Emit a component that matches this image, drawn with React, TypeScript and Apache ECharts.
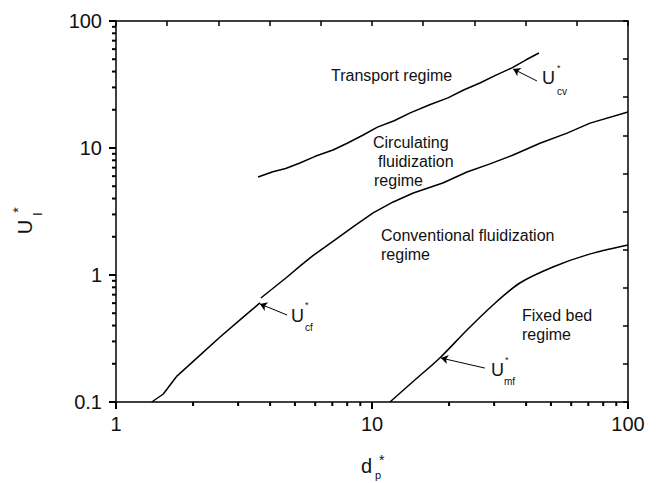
import React, { useEffect, useRef } from "react";
import * as echarts from "echarts";

// Curve data (dp*, U*)
const ucvData: number[][] = [
  [3.59, 5.91], [4.1, 6.5], [4.6, 6.9], [5.23, 7.62], [6.0, 8.6], [7.04, 9.64],
  [8.0, 10.9], [9.2, 12.6], [10.5, 14.6], [12.2, 16.4], [14.1, 18.9], [16.8, 21.9],
  [19.8, 24.8], [22.8, 28.6], [26.4, 32.5], [30.5, 37.5], [35.2, 42.7], [40, 49.5], [44.9, 56.0],
];
const ucfLowData: number[][] = [
  [1.38, 0.1], [1.53, 0.1156], [1.73, 0.16], [2.13, 0.234], [2.55, 0.325], [3.05, 0.443], [3.65, 0.603],
];
const ucfHighData: number[][] = [
  [3.68, 0.659], [4.66, 0.964], [5.3, 1.2], [5.88, 1.42], [7.17, 1.89], [8.43, 2.39], [10.1, 3.08],
  [12.1, 3.76], [14.5, 4.42], [18.9, 5.3], [23.5, 6.47], [28.9, 7.5], [35.6, 8.81],
  [45.3, 10.9], [57.8, 13.1], [71.1, 15.7], [100, 19.2],
];
const umfData: number[][] = [
  [11.75, 0.1], [14.7, 0.149], [18.4, 0.222], [23.5, 0.369], [29.7, 0.581],
  [37.8, 0.865], [50.9, 1.156], [69.2, 1.44], [100, 1.72],
];

// Arrow annotations: [from, to] in data coords
const cvArrow = [[44.1, 33.7], [35.6, 41.9]];
const cfArrow = [[4.66, 0.484], [3.65, 0.592]];
const mfArrow = [[27.6, 0.185], [18.6, 0.222]];

// Minor tick values
const xMinorTicks = [2, 3, 4, 5, 6, 7, 8, 9, 20, 30, 40, 50, 60, 70, 80, 90];
const yMinorTicks = [0.2, 0.3, 0.4, 0.5, 0.6, 0.7, 0.8, 0.9, 2, 3, 4, 5, 6, 7, 8, 9, 20, 30, 40, 50, 60, 70, 80, 90];

const FONT = "'Liberation Sans', Arial, sans-serif";
const INK = "#111";
const TICK = "#000";

function txt(x: number, y: number, text: string, fontSize: number, extra: any = {}) {
  return {
    type: "text",
    x,
    y,
    silent: true,
    ...extra,
    style: {
      text,
      fontSize,
      fontFamily: FONT,
      fill: INK,
      align: "left",
      verticalAlign: "middle",
      ...(extra.style || {}),
    },
  };
}

function arrowLine(a: number[][]) {
  return {
    silent: true,
    symbol: ["none", "arrow"],
    symbolSize: 7,
    animation: false,
    lineStyle: { color: "#000", width: 1, type: "solid" },
    label: { show: false },
    emphasis: { disabled: true },
    data: [[{ coord: a[0] }, { coord: a[1] }]],
  };
}

export default function App() {
  const ref = useRef<HTMLDivElement>(null);
  useEffect(() => {
    const chart = echarts.init(ref.current!, null, { renderer: "svg" });
    const lineSeries = (data: number[][], extra: any = {}) => ({
      type: "line",
      data,
      showSymbol: false,
      symbol: "none",
      lineStyle: { color: "#000", width: 1.5 },
      silent: true,
      ...extra,
    });
    const tickSeries = (data: number[][], dx: number, dy: number) => ({
      type: "custom",
      clip: false,
      z: 5,
      data,
      renderItem: (_params: any, api: any) => {
        const p = api.coord([api.value(0), api.value(1)]);
        return {
          type: "line",
          shape: { x1: p[0], y1: p[1], x2: p[0] + dx, y2: p[1] + dy },
          style: { stroke: TICK, lineWidth: 2 },
        };
      },
    });
    chart.setOption({
      animation: false,
      grid: { left: 116, top: 21, right: 30, bottom: 81 },
      xAxis: [
        {
          type: "log",
          logBase: 10,
          min: 1,
          max: 100,
          position: "bottom",
          axisLine: { show: true, onZero: false, lineStyle: { color: "#000", width: 1.5 } },
          axisTick: { show: true, length: 7, lineStyle: { color: TICK, width: 2 } },
          splitLine: { show: false },
          axisLabel: { color: INK, fontSize: 20, fontFamily: FONT, margin: 12 },
        },
        {
          type: "value",
          min: 0,
          max: 10,
          interval: 1,
          position: "top",
          axisLine: { show: true, onZero: false, lineStyle: { color: "#000", width: 1.5 } },
          axisTick: { show: true, inside: true, length: 5, lineStyle: { color: TICK, width: 1.5 } },
          axisLabel: { show: false },
          splitLine: { show: false },
        },
      ],
      yAxis: [
        {
          type: "log",
          logBase: 10,
          min: 0.1,
          max: 100,
          position: "left",
          axisLine: { show: true, onZero: false, lineStyle: { color: "#000", width: 1.5 } },
          axisTick: { show: true, length: 7, lineStyle: { color: TICK, width: 2 } },
          splitLine: { show: false },
          axisLabel: { color: INK, fontSize: 20, fontFamily: FONT, margin: 14 },
        },
        {
          type: "value",
          min: 0,
          max: 10,
          interval: 1,
          position: "right",
          axisLine: { show: true, onZero: false, lineStyle: { color: "#000", width: 1.5 } },
          axisTick: { show: true, inside: true, length: 5, lineStyle: { color: TICK, width: 1.5 } },
          axisLabel: { show: false },
          splitLine: { show: false },
        },
      ],
      series: [
        lineSeries(ucvData, { markLine: arrowLine(cvArrow) }),
        lineSeries(ucfLowData, { markLine: arrowLine(cfArrow) }),
        lineSeries(ucfHighData),
        lineSeries(umfData, { smooth: 0.3, markLine: arrowLine(mfArrow) }),
        tickSeries(xMinorTicks.map((v) => [v, 0.1]), 0, 4),
        tickSeries(yMinorTicks.map((v) => [1, v]), -4, 0),
      ],
      graphic: [
        txt(331, 75, "Transport regime", 16),
        txt(373, 142, "Circulating", 16),
        txt(378, 161, "fluidization", 16),
        txt(374, 180, "regime", 16),
        txt(381, 235, "Conventional fluidization", 16),
        txt(381, 254, "regime", 16),
        txt(522, 315, "Fixed bed", 16),
        txt(522, 334, "regime", 16),
        // U*cv
        txt(542, 78, "U", 18),
        txt(557, 68, "*", 9),
        txt(557, 91, "cv", 10),
        // U*cf
        txt(291, 316, "U", 18),
        txt(305, 305, "*", 9),
        txt(305, 327, "cf", 10),
        // U*mf
        txt(491, 370, "U", 18),
        txt(505, 360, "*", 9),
        txt(504, 381, "mf", 10),
        // x axis name dp*
        txt(361, 466, "d", 20),
        txt(375, 475, "p", 11),
        txt(379, 460, "*", 14),
        // y axis name Ul*
        txt(25, 227, "U", 20, { rotation: Math.PI / 2, style: { align: "center" } }),
        txt(37, 214, "l", 13, { rotation: Math.PI / 2, style: { align: "center" } }),
        txt(18, 210, "*", 14, { rotation: Math.PI / 2, style: { align: "center" } }),
      ],
    });
    return () => chart.dispose();
  }, []);
  return (
    <div
      ref={ref}
      style={{ position: "fixed", left: 0, top: 0, width: 658, height: 483, background: "#fff" }}
    />
  );
}
